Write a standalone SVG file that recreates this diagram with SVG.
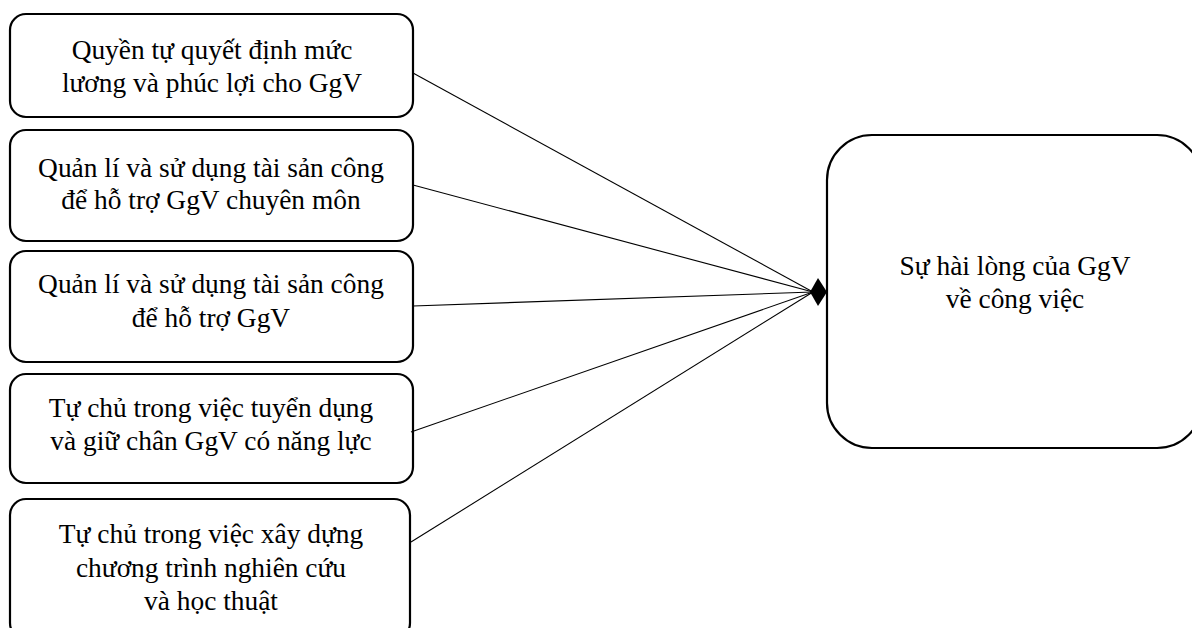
<svg xmlns="http://www.w3.org/2000/svg" width="1192" height="628" viewBox="0 0 1192 628">
<style>
.box{fill:#fff;stroke:#000;stroke-width:2.2}
.t{font-family:"Liberation Serif","Times New Roman",serif;font-size:27.4px;fill:#000;text-anchor:middle}
.c{stroke:#000;stroke-width:1.1;fill:none}
</style>
<rect width="1192" height="628" fill="#fff"/>
<g id="n1"><rect class="box" x="10" y="14" width="403" height="103" rx="16"/>
<text class="t" x="212" y="59">Quyền tự quyết định mức</text><text class="t" x="212" y="92">lương và phúc lợi cho GgV</text></g>
<g id="n2"><rect class="box" x="10" y="130" width="403" height="111" rx="16"/>
<text class="t" x="211" y="177">Quản lí và sử dụng tài sản công</text><text class="t" x="211" y="209">để hỗ trợ GgV chuyên môn</text></g>
<g id="n3"><rect class="box" x="10" y="251" width="403" height="111" rx="16"/>
<text class="t" x="211" y="293">Quản lí và sử dụng tài sản công</text><text class="t" x="211" y="327">để hỗ trợ GgV</text></g>
<g id="n4"><rect class="box" x="10" y="374" width="403" height="109" rx="16"/>
<text class="t" x="211" y="417">Tự chủ trong việc tuyển dụng</text><text class="t" x="211" y="450">và giữ chân GgV có năng lực</text></g>
<g id="n5"><rect class="box" x="10" y="499" width="400" height="140" rx="16"/>
<text class="t" x="211" y="543">Tự chủ trong việc xây dựng</text><text class="t" x="211" y="577">chương trình nghiên cứu</text><text class="t" x="211" y="610">và học thuật</text></g>
<g id="n6"><rect class="box" x="827" y="135" width="375" height="313" rx="45"/>
<text class="t" x="1015" y="275">Sự hài lòng của GgV</text><text class="t" x="1015" y="308">về công việc</text></g>
<g id="connectors">
<line class="c" x1="413" y1="73" x2="813" y2="292"/>
<line class="c" x1="413" y1="185" x2="813" y2="292"/>
<line class="c" x1="413" y1="306" x2="813" y2="292"/>
<line class="c" x1="411" y1="432" x2="813" y2="292"/>
<line class="c" x1="411" y1="542" x2="813" y2="292"/>
<polygon points="810,292 818,278 827,292 818,306" fill="#000"/>
</g>
</svg>
